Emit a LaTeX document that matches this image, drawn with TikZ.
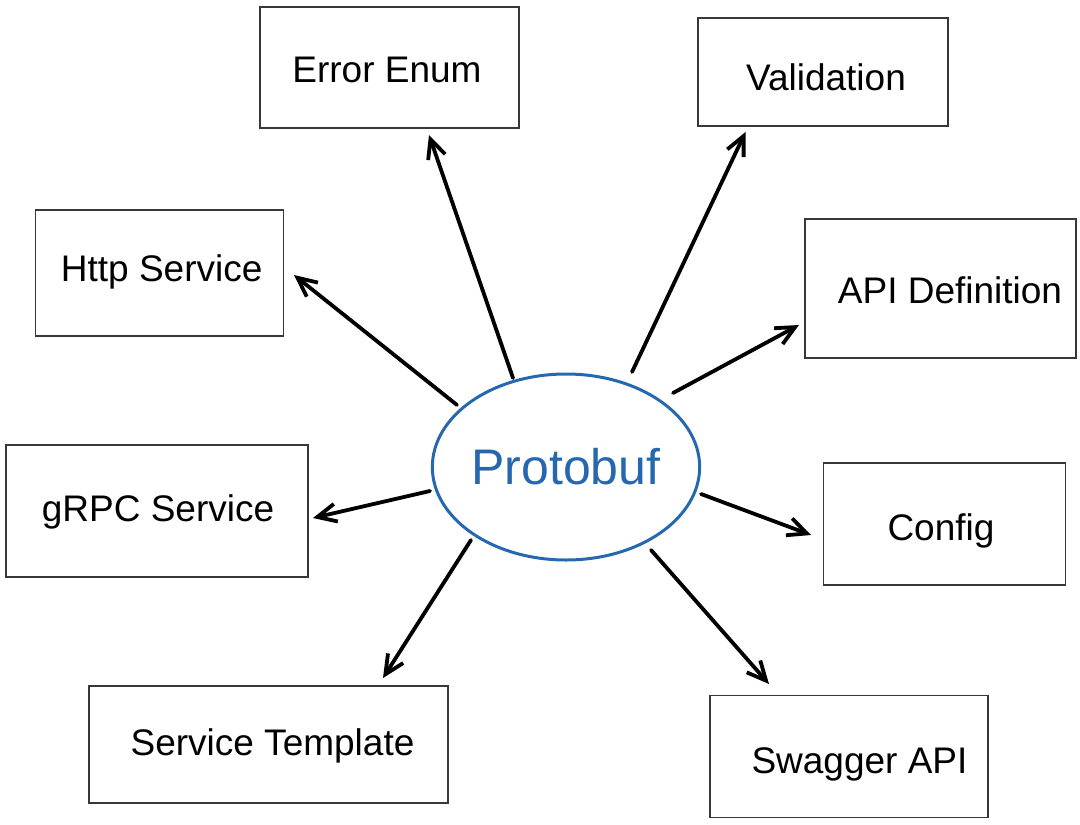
\documentclass[tikz,border=0pt]{standalone}
\usepackage{fontspec}
\setmainfont{Liberation Sans}
\usetikzlibrary{arrows.meta,shapes.geometric}
\definecolor{pblue}{RGB}{38,104,176}
\newcommand{\lbl}[3]{\raisebox{\dimexpr-13.4pt-#2pt\relax}[0pt][0pt]{\makebox[0pt]{\hspace{#1pt}\hspace{#1pt}#3}}}
\begin{document}
\begin{tikzpicture}[x=1pt,y=-1pt,
  box/.style={draw=black!78,line width=1.5pt,rectangle,inner sep=0pt,font=\fontsize{37}{42}\selectfont},
  conn/.style={line width=3.8pt,line cap=round,-{Straight Barb[length=19pt,width=18pt,line width=3.8pt]}}]
\useasboundingbox (0,0) rectangle (1080,825);
\node[draw=pblue,line width=3pt,ellipse,inner sep=0pt,minimum width=266pt,minimum height=186pt,text=pblue,font=\fontsize{50}{55}\selectfont] (proto) at (566,467) {Protobuf};
\node[box,minimum width=259pt,minimum height=121pt] (err) at (389.5,67.5) {\lbl{-2.5}{1.5}{Error Enum}};
\node[box,minimum width=248pt,minimum height=126pt] (http) at (159.7,273) {\lbl{2}{-5}{Http Service}};
\node[box,minimum width=302pt,minimum height=132pt] (grpc) at (157,511) {\lbl{1}{-3}{gRPC Service}};
\node[box,minimum width=359pt,minimum height=117pt] (tmpl) at (268.5,744.5) {\lbl{4}{-2.5}{Service Template}};
\node[box,minimum width=250pt,minimum height=108pt] (valid) at (823,72) {\lbl{3}{5}{Validation}};
\node[box,minimum width=271pt,minimum height=139pt] (api) at (940.5,288.5) {\lbl{9.5}{2}{API Definition}};
\node[box,minimum width=242pt,minimum height=122pt] (conf) at (944.6,524) {\lbl{-3.6}{3.5}{Config}};
\node[box,minimum width=278pt,minimum height=122pt] (swag) at (849,756.7) {\lbl{10.5}{3}{Swagger API}};
\coordinate (s1) at (513,378); \coordinate (e1) at (429,135);
\coordinate (s2) at (457,405); \coordinate (e2) at (294,275);
\coordinate (s3) at (632,372); \coordinate (e3) at (745.5,132);
\coordinate (s4) at (673,393); \coordinate (e4) at (799,325);
\coordinate (s5) at (430,491); \coordinate (e5) at (313,518);
\coordinate (s6) at (701,494); \coordinate (e6) at (811,535);
\coordinate (s7) at (471,540); \coordinate (e7) at (383,678);
\coordinate (s8) at (651,550); \coordinate (e8) at (769,684);
\draw[conn] (s1) -- (e1);
\draw[conn] (s2) -- (e2);
\draw[conn] (s3) -- (e3);
\draw[conn] (s4) -- (e4);
\draw[conn] (s5) -- (e5);
\draw[conn] (s6) -- (e6);
\draw[conn] (s7) -- (e7);
\draw[conn] (s8) -- (e8);
\end{tikzpicture}
\end{document}
